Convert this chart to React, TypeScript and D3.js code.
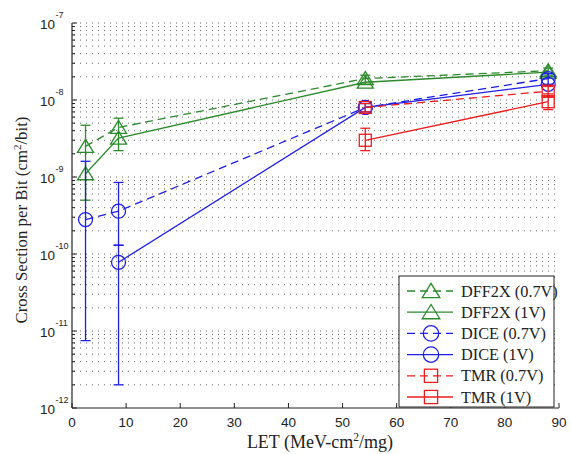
import React from "react";
import * as d3 from "d3";

const LET = [2.5, 8.6, 54.2, 88];

const dff07 = [2.5e-9, 4.4e-9, 1.9e-8, 2.4e-8];
const dff07Lo = [5.0e-10, 2.2e-9, 1.6e-8, 2.1e-8];
const dff07Hi = [4.7e-9, 5.8e-9, 2.1e-8, 2.6e-8];

const dff1 = [1.1e-9, 3.2e-9, 1.7e-8, 2.3e-8];
const dff1Lo = [null, null, null, null];
const dff1Hi = [null, null, null, null];

const dice07 = [2.8e-10, 3.6e-10, 8.0e-9, 1.9e-8];
const dice07Lo = [7.5e-12, 1.3e-10, 7.0e-9, 1.6e-8];
const dice07Hi = [1.6e-9, 8.5e-10, 9.0e-9, 2.2e-8];

const dice1 = [null, 7.8e-11, 8.0e-9, 1.6e-8];
const dice1Lo = [null, 2.0e-12, null, null];
const dice1Hi = [null, 1.3e-10, null, null];

const tmr07 = [null, null, 8.0e-9, 1.3e-8];
const tmr07Lo = [null, null, 7.0e-9, 1.1e-8];
const tmr07Hi = [null, null, 9.0e-9, 1.5e-8];

const tmr1 = [null, null, 3.0e-9, 9.5e-9];
const tmr1Lo = [null, null, 2.2e-9, 7.5e-9];
const tmr1Hi = [null, null, 4.3e-9, 1.2e-8];

const seriesNames = ["DFF2X (0.7V)", "DFF2X (1V)", "DICE (0.7V)", "DICE (1V)", "TMR (0.7V)", "TMR (1V)"];
const xTicks = [0, 10, 20, 30, 40, 50, 60, 70, 80, 90];
const yExponents = [-12, -11, -10, -9, -8, -7];

const GREEN = "#2b8a2b";
const BLUE = "#1e1ee6";
const RED = "#ee1c1c";

type Series = {
  name: string;
  vals: (number | null)[];
  lo: (number | null)[];
  hi: (number | null)[];
  color: string;
  dashed: boolean;
  marker: "tri" | "circ" | "sq";
};

const series: Series[] = [
  { name: seriesNames[0], vals: dff07, lo: dff07Lo, hi: dff07Hi, color: GREEN, dashed: true, marker: "tri" },
  { name: seriesNames[1], vals: dff1, lo: dff1Lo, hi: dff1Hi, color: GREEN, dashed: false, marker: "tri" },
  { name: seriesNames[2], vals: dice07, lo: dice07Lo, hi: dice07Hi, color: BLUE, dashed: true, marker: "circ" },
  { name: seriesNames[3], vals: dice1, lo: dice1Lo, hi: dice1Hi, color: BLUE, dashed: false, marker: "circ" },
  { name: seriesNames[4], vals: tmr07, lo: tmr07Lo, hi: tmr07Hi, color: RED, dashed: true, marker: "sq" },
  { name: seriesNames[5], vals: tmr1, lo: tmr1Lo, hi: tmr1Hi, color: RED, dashed: false, marker: "sq" },
];

const X0 = 72, X1 = 559, YT = 23, YB = 408;
const x = d3.scaleLinear().domain([0, 90]).range([X0, X1]);
const y = d3.scaleLog().domain([1e-12, 1e-7]).range([YB, YT]);

function Marker({ type, cx, cy, color, scale = 1 }: { type: string; cx: number; cy: number; color: string; scale?: number }) {
  if (type === "tri") {
    const w = 8 * scale, h = 7 * scale;
    const pts = `${cx},${cy - h} ${cx - w},${cy + h * 0.85} ${cx + w},${cy + h * 0.85}`;
    return <polygon points={pts} fill="none" stroke={color} strokeWidth={1.3} />;
  }
  if (type === "circ") {
    return <circle cx={cx} cy={cy} r={7 * scale} fill="none" stroke={color} strokeWidth={1.3} />;
  }
  const s = 6 * scale;
  return <rect x={cx - s} y={cy - s} width={2 * s} height={2 * s} fill="none" stroke={color} strokeWidth={1.3} />;
}

export default function App() {
  const minorVals: number[] = [];
  for (let e = -12; e < -7; e++) {
    for (let m = 1; m <= 9; m++) minorVals.push(m * Math.pow(10, e));
  }
  minorVals.push(1e-7);

  const line = d3
    .line<[number, number]>()
    .x((d) => x(d[0]))
    .y((d) => y(d[1]));

  const serif = "'Liberation Serif', 'Times New Roman', serif";
  const sans = "'Liberation Sans', Arial, sans-serif";

  return (
    <svg width={571} height={454} style={{ position: "absolute", left: 0, top: 0, background: "#fff" }}>
      <rect x={0} y={0} width={571} height={454} fill="#fff" />
      {/* grid */}
      {minorVals.map((v, i) =>
        y(v) < YB - 0.5 ? (
          <line key={"g" + i} x1={X0 + 2} x2={X1 - 3} y1={y(v)} y2={y(v)} stroke="#666" strokeWidth={1} strokeDasharray="1,5" />
        ) : null
      )}
      {/* y ticks */}
      {minorVals.map((v, i) => {
        const major = Math.abs(Math.log10(v) - Math.round(Math.log10(v))) < 1e-6;
        return <line key={"yt" + i} x1={X0} x2={X0 + (major ? 5 : 3)} y1={y(v)} y2={y(v)} stroke="#222" strokeWidth={1} />;
      })}
      {/* axes */}
      <line x1={X0} x2={X0} y1={YT} y2={YB} stroke="#222" strokeWidth={1.2} />
      <line x1={X0} x2={X1} y1={YB} y2={YB} stroke="#222" strokeWidth={1.2} />
      {xTicks.map((t) => (
        <g key={"xt" + t}>
          <line x1={x(t)} x2={x(t)} y1={YB} y2={YB - 5} stroke="#222" strokeWidth={1} />
          <text x={x(t)} y={427} textAnchor="middle" fontFamily={sans} fontSize={13.5} fill="#222">
            {t}
          </text>
        </g>
      ))}
      {yExponents.map((e) => {
        const yy = y(Math.pow(10, e));
        return (
          <g key={"ye" + e}>
            <text x={55} y={yy + 5.5} textAnchor="end" fontFamily={sans} fontSize={13.5} fill="#222">
              10
            </text>
            <text x={55.5} y={yy - 5} textAnchor="start" fontFamily={sans} fontSize={9} fill="#222">
              {e}
            </text>
          </g>
        );
      })}
      {/* data */}
      {series.map((s, si) => {
        const pts: [number, number][] = [];
        s.vals.forEach((v, i) => {
          if (v != null) pts.push([LET[i], v]);
        });
        return (
          <g key={"s" + si}>
            <path d={line(pts) || ""} fill="none" stroke={s.color} strokeWidth={1.3} strokeDasharray={s.dashed ? "8,5" : undefined} />
            {s.vals.map((v, i) => {
              const lo = s.lo[i], hi = s.hi[i];
              if (lo == null || hi == null) return null;
              const cx = x(LET[i]);
              return (
                <g key={"e" + i}>
                  <line x1={cx} x2={cx} y1={y(lo)} y2={y(hi)} stroke={s.color} strokeWidth={1.3} />
                  <line x1={cx - 5} x2={cx + 5} y1={y(lo)} y2={y(lo)} stroke={s.color} strokeWidth={1.3} />
                  <line x1={cx - 5} x2={cx + 5} y1={y(hi)} y2={y(hi)} stroke={s.color} strokeWidth={1.3} />
                </g>
              );
            })}
            {s.vals.map((v, i) =>
              v != null ? <Marker key={"m" + i} type={s.marker} cx={x(LET[i])} cy={y(v)} color={s.color} /> : null
            )}
          </g>
        );
      })}
      {/* legend */}
      <rect x={399} y={276} width={155} height={131} fill="#fff" stroke="#222" strokeWidth={1} />
      {series.map((s, i) => {
        const ly = 291 + i * 21.2;
        return (
          <g key={"l" + i}>
            <line x1={407} x2={453} y1={ly} y2={ly} stroke={s.color} strokeWidth={1.3} strokeDasharray={s.dashed ? "8,5" : undefined} />
            <Marker type={s.marker} cx={431} cy={ly} color={s.color} scale={1.1} />
            <text x={461} y={ly + 5.5} fontFamily={serif} fontSize={16.3} fill="#222">
              {s.name}
            </text>
          </g>
        );
      })}
      {/* axis labels */}
      <text x={320} y={448} textAnchor="middle" fontFamily={serif} fontSize={18} fill="#222">
        LET (MeV-cm
        <tspan fontSize={11.5} dy={-7}>2</tspan>
        <tspan dy={7}>/mg)</tspan>
      </text>
      <text transform="translate(27,220) rotate(-90)" textAnchor="middle" fontFamily={serif} fontSize={16.8} fill="#222">
        Cross Section per Bit (cm
        <tspan fontSize={11} dy={-6}>2</tspan>
        <tspan dy={6}>/bit)</tspan>
      </text>
    </svg>
  );
}
